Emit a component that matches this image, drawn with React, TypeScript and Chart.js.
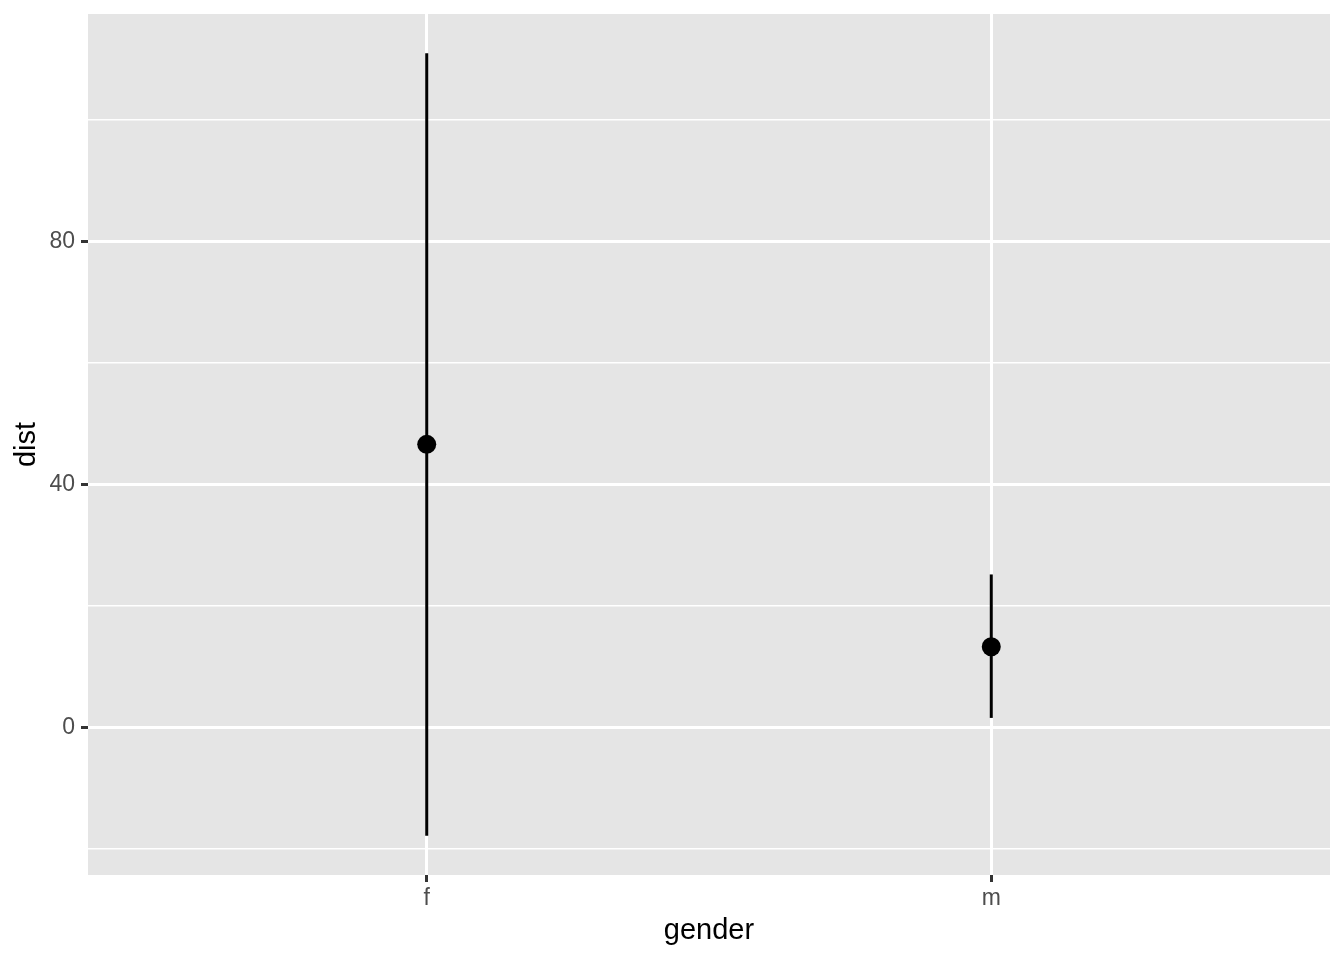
import React, { useEffect, useRef } from "react";
import { Chart, registerables } from "chart.js";

Chart.register(...registerables);

const categories = ["f", "m"];
const means = [46.6, 13.3];
const lowers = [-17.8, 1.6];
const uppers = [110.95, 25.2];
const yMajorTicks = [0, 40, 80];
const yAllTicks = [-20, 0, 20, 40, 60, 80, 100];

const FONT = "'Liberation Sans', Arial, Helvetica, sans-serif";

export default function App() {
  const ref = useRef<HTMLCanvasElement | null>(null);

  useEffect(() => {
    const canvas = ref.current;
    if (!canvas) return;

    const bgPlugin = {
      id: "panelBg",
      beforeDraw(chart: any) {
        const { ctx, chartArea } = chart;
        ctx.save();
        ctx.fillStyle = "#E5E5E5";
        ctx.fillRect(chartArea.left, chartArea.top, chartArea.right - chartArea.left, chartArea.bottom - chartArea.top);
        ctx.restore();
      },
    };

    const errorSets = categories.map((c, i) => ({
      type: "line" as const,
      label: "range " + c,
      data: [
        { x: i + 1, y: lowers[i] },
        { x: i + 1, y: uppers[i] },
      ],
      borderColor: "#000000",
      borderWidth: 3,
      pointRadius: 0,
      showLine: true,
      order: 2,
    }));

    const chart = new Chart(canvas, {
      type: "scatter",
      data: {
        datasets: [
          {
            type: "scatter" as const,
            label: "mean",
            data: categories.map((_, i) => ({ x: i + 1, y: means[i] })),
            backgroundColor: "#000000",
            borderColor: "#000000",
            pointRadius: 9.5,
            pointBorderWidth: 0,
            order: 1,
          },
          ...errorSets,
        ] as any,
      },
      options: {
        responsive: false,
        animation: false,
        layout: { padding: { top: 14, right: 14, left: 0, bottom: 0 } },
        plugins: {
          legend: { display: false },
          tooltip: { enabled: false },
        },
        scales: {
          x: {
            type: "linear",
            min: 0.4,
            max: 2.6,
            afterBuildTicks(scale: any) {
              scale.ticks = categories.map((_, i) => ({ value: i + 1 }));
            },
            afterFit(scale: any) {
              scale.height = 85;
              scale.paddingLeft = 0;
              scale.paddingRight = 0;
            },
            border: { display: false },
            grid: {
              color: "#FFFFFF",
              lineWidth: 3,
              tickLength: 7,
              tickColor: "#333333",
              tickWidth: 3,
            },
            ticks: {
              autoSkip: false,
              maxRotation: 0,
              padding: 3,
              color: "#4D4D4D",
              font: { family: FONT, size: 23 },
              callback: (v: any) => categories[Math.round(Number(v)) - 1] ?? "",
            },
            title: {
              display: true,
              text: "gender",
              color: "#000000",
              font: { family: FONT, size: 29 },
              padding: { top: 0, bottom: 12 },
            },
          },
          y: {
            type: "linear",
            min: -24.24,
            max: 117.39,
            afterBuildTicks(scale: any) {
              scale.ticks = yAllTicks.map((v) => ({ value: v }));
            },
            afterFit(scale: any) {
              scale.width = 88;
              scale.paddingTop = 0;
              scale.paddingBottom = 0;
            },
            border: { display: false },
            grid: {
              color: "#FFFFFF",
              lineWidth: (ctx: any) => (yMajorTicks.includes(ctx.tick?.value) ? 3 : 1.5),
              tickLength: 7,
              tickColor: (ctx: any) => (yMajorTicks.includes(ctx.tick?.value) ? "#333333" : "rgba(0,0,0,0)"),
              tickWidth: 3,
            },
            ticks: {
              autoSkip: false,
              padding: 6,
              color: "#4D4D4D",
              font: { family: FONT, size: 23 },
              callback: (v: any) => (yMajorTicks.includes(Number(v)) ? String(v) : ""),
            },
            title: {
              display: true,
              text: "dist",
              color: "#000000",
              font: { family: FONT, size: 29 },
              padding: { top: 10, bottom: 0 },
            },
          },
        },
      },
      plugins: [bgPlugin],
    });

    return () => chart.destroy();
  }, []);

  return (
    <div style={{ position: "fixed", left: 0, top: 0, width: 1344, height: 960, background: "#FFFFFF" }}>
      <canvas ref={ref} width={1344} height={960} style={{ width: 1344, height: 960, display: "block" }} />
    </div>
  );
}
